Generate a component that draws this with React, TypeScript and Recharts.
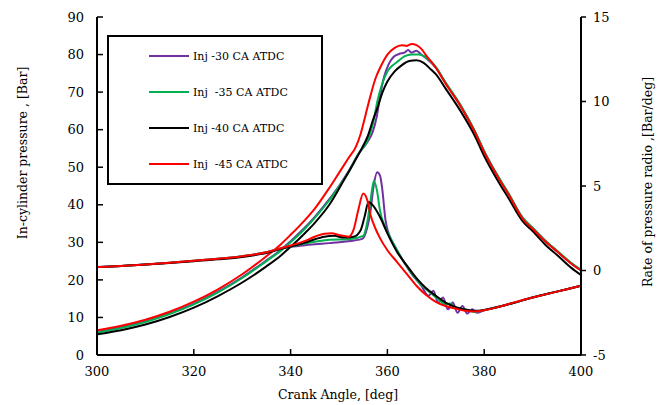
import React from "react";
import {
  LineChart,
  Line,
  XAxis,
  YAxis,
  Legend,
} from "recharts";

// [crank angle, pressure (bar)]
const P_30: [number, number][] = [
  [300, 6.2], [305, 7.4], [310, 9], [315, 11.1], [320, 13.7], [325, 16.9],
  [330, 20.7], [335, 25.2], [338, 28], [340, 30.3], [343, 34], [345, 36.8],
  [348, 41.5], [350, 45], [352, 49], [354, 53.5], [356, 57], [357, 59.5],
  [357.8, 63.5], [358.5, 69], [359.3, 74], [360.3, 77.5], [361.3, 79.4],
  [362.5, 80.2], [363.5, 80.5], [364.3, 81.2], [365, 80.5], [366, 81],
  [367, 80], [368, 79], [370, 76.5], [372, 72.5], [375, 66.6], [378, 59.7],
  [380, 54.2], [383, 47.2], [385, 43], [388, 36.4], [390, 33.8], [393, 29.9],
  [395, 27.7], [398, 24.4], [400, 22.6],
];
const P_35: [number, number][] = [
  [300, 6], [305, 7.2], [310, 8.8], [315, 10.9], [320, 13.5], [325, 16.7],
  [330, 20.5], [335, 25], [338, 27.8], [340, 30], [343, 33.7], [345, 36.5],
  [348, 41.2], [350, 44.8], [352, 48.8], [354, 53.5], [356, 57.5], [357, 61.5],
  [358, 68], [359, 72.5], [360, 75.5], [361, 77], [362, 78], [363.5, 79.5],
  [365, 80], [366.5, 80], [368, 79.2], [370, 76.7], [372, 72.6], [375, 66.8],
  [378, 59.8], [380, 54.3], [383, 47.3], [385, 43.1], [388, 36.5], [390, 33.9],
  [393, 30], [395, 27.8], [398, 24.5], [400, 22.7],
];
const P_40: [number, number][] = [
  [300, 5.5], [305, 6.6], [310, 8.1], [315, 10.1], [320, 12.6], [325, 15.7],
  [330, 19.3], [335, 23.6], [338, 26.5], [340, 28.8], [343, 32.5], [345, 35.2],
  [348, 40], [351, 46.5], [353, 51], [354.5, 54.5], [356, 58.5], [357, 62.5],
  [358, 66], [359, 70], [360, 72.8], [361.5, 75.5], [363, 77.2], [364.5, 78.3],
  [366, 78.5], [367.5, 77.8], [369, 76], [370, 74.8], [372, 71], [375, 65.2],
  [378, 58.5], [380, 53], [383, 46], [385, 41.8], [388, 35.5], [390, 33],
  [393, 28.9], [395, 26.7], [398, 23.2], [400, 21.3],
];
const P_45: [number, number][] = [
  [300, 6.6], [305, 7.8], [310, 9.4], [315, 11.5], [320, 14.2], [325, 17.5],
  [330, 21.5], [335, 26.3], [338, 29.5], [340, 32], [343, 36], [345, 39],
  [348, 44.5], [350, 48.5], [352, 52.5], [353.5, 55.5], [354.5, 59],
  [355.5, 64], [356.5, 69], [357.5, 73.5], [358.5, 76.5], [360, 80],
  [361.5, 81.8], [363, 82.5], [364, 82.3], [365, 82.8], [366, 82.5],
  [367, 81.5], [368, 79.8], [370, 76.5], [372, 72.3], [375, 66.5], [378, 59.5],
  [380, 54], [383, 47], [385, 42.8], [388, 36.2], [390, 33.6], [393, 29.8],
  [395, 27.6], [398, 24.3], [400, 22.5],
];

// [crank angle, rate of pressure rise (bar/deg)]
const R_30: [number, number][] = [
  [300, 0.2], [305, 0.27], [310, 0.36], [315, 0.46], [320, 0.57], [325, 0.7],
  [330, 0.85], [335, 1.08], [338, 1.3], [340, 1.4], [343, 1.5], [345, 1.55],
  [348, 1.62], [351, 1.7], [354.8, 1.87], [355.8, 2.5], [356.5, 3.5],
  [357.2, 5.1], [357.9, 5.82], [358.5, 5.6], [358.9, 4.9], [359.6, 3],
  [360.5, 2], [361.3, 1.55], [363, 0.7], [365, -0.2], [367, -0.9],
  [368.5, -1.5], [369.5, -1.2], [370.5, -1.9], [371.5, -1.6], [372.5, -2.3],
  [373.5, -1.9], [374.5, -2.5], [375.5, -2.1], [376.5, -2.55], [377.5, -2.3],
  [378.5, -2.5], [380, -2.35], [383, -2.15], [386, -1.92], [390, -1.6],
  [395, -1.25], [400, -0.9],
];
const R_35: [number, number][] = [
  [300, 0.2], [305, 0.27], [310, 0.36], [315, 0.46], [320, 0.57], [325, 0.7],
  [330, 0.85], [335, 1.08], [338, 1.3], [340, 1.42], [343, 1.6], [345, 1.7],
  [348, 1.82], [352, 1.85], [355, 2.05], [355.8, 2.8], [356.5, 4.1],
  [357.2, 5.3], [357.8, 4.8], [358.5, 3.5], [359.5, 2.6], [360.5, 2],
  [361.3, 1.55], [363, 0.7], [365, -0.15], [367, -0.85], [369, -1.35],
  [370.5, -1.7], [372, -2], [373, -1.95], [374, -2.2], [376, -2.3],
  [378, -2.45], [380, -2.35], [383, -2.15], [386, -1.92], [390, -1.6],
  [395, -1.25], [400, -0.9],
];
const R_40: [number, number][] = [
  [300, 0.2], [305, 0.26], [310, 0.35], [315, 0.44], [320, 0.55], [325, 0.66],
  [330, 0.8], [335, 1.04], [338, 1.28], [340, 1.42], [343, 1.65], [345, 1.85],
  [347, 2], [349, 2.05], [351, 1.95], [353, 2], [354.5, 2.4], [355.3, 3.2],
  [356.1, 4.05], [357, 3.85], [358.5, 3.15], [360, 2.2], [362, 1.1],
  [364, 0.3], [366, -0.45], [368, -1.05], [370, -1.5], [372, -1.9],
  [374, -2.15], [376, -2.3], [378, -2.38], [380, -2.33], [383, -2.15],
  [386, -1.92], [390, -1.6], [395, -1.25], [400, -0.9],
];
const R_45: [number, number][] = [
  [300, 0.2], [305, 0.27], [310, 0.36], [315, 0.46], [320, 0.57], [325, 0.7],
  [330, 0.85], [335, 1.08], [338, 1.32], [340, 1.48], [343, 1.75], [345, 2],
  [347, 2.18], [348.5, 2.2], [350, 2.1], [352, 2], [353, 2.4], [354, 3.6],
  [355, 4.55], [355.8, 4.2], [356.5, 3.3], [357.5, 2.5], [358.5, 1.9],
  [360, 1.2], [362, 0.5], [364, -0.2], [366, -0.9], [368, -1.45],
  [370, -1.85], [372, -2.1], [374, -2.25], [376, -2.38], [378, -2.42],
  [380, -2.35], [383, -2.15], [386, -1.9], [390, -1.6], [395, -1.25],
  [400, -0.9],
];

const NAMES = ["Inj -30 CA ATDC", "Inj  -35 CA ATDC", "Inj -40 CA ATDC", "Inj  -45 CA ATDC"];
const COLORS = ["#7030A0", "#00B050", "#000000", "#FF0000"];
const PRESSURE = [P_30, P_35, P_40, P_45];
const RATE = [R_30, R_35, R_40, R_45];

const X_TICKS = [300, 320, 340, 360, 380, 400];
const P_TICKS = [0, 10, 20, 30, 40, 50, 60, 70, 80, 90];
const R_TICKS = [-5, 0, 5, 10, 15];

// only serif face that resolves in the sandbox
const FONT = "DejaVu Serif";
const tickStyle = { fill: "#000", fontSize: 13, fontFamily: FONT };

const toPts = (arr: [number, number][]) => arr.map(([x, y]) => ({ x, y }));

function Title({ tx, ty, angle, text }: any) {
  return (
    <text
      x={tx}
      y={ty}
      textAnchor="middle"
      transform={angle ? `rotate(${angle} ${tx} ${ty})` : undefined}
      fill="#000"
      fontSize={12.5}
      fontFamily={FONT}
    >
      {text}
    </text>
  );
}

function LegendBox({ payload }: any) {
  const items = (payload || [])
    .filter((p: any) => p.type !== "none")
    .sort((a: any, b: any) => NAMES.indexOf(a.value) - NAMES.indexOf(b.value));
  return (
    <div
      style={{
        width: 212,
        height: 144,
        border: "2px solid #000",
        background: "#fff",
        display: "flex",
        flexDirection: "column",
        justifyContent: "space-around",
        padding: "1px 0",
        boxSizing: "content-box",
      }}
    >
      {items.map((it: any, i: number) => (
        <div key={i} style={{ display: "flex", alignItems: "center", paddingLeft: 40 }}>
          <span style={{ width: 40, height: 2, background: it.color, display: "inline-block" }} />
          <span
            style={{
              marginLeft: 4,
              fontFamily: FONT,
              fontSize: 11,
              whiteSpace: "pre",
              color: "#000",
            }}
          >
            {it.value}
          </span>
        </div>
      ))}
    </div>
  );
}

export default function App() {
  return (
    <div style={{ position: "absolute", left: 0, top: 0, background: "#fff", fontFamily: FONT }}>
      <LineChart width={666} height={405} margin={{ top: 17, right: 0, bottom: 0, left: 0 }}>
        <XAxis
          dataKey="x"
          type="number"
          domain={[300, 400]}
          ticks={X_TICKS}
          interval={0}
          allowDataOverflow
          height={50}
          tick={tickStyle}
          tickSize={-6}
          tickMargin={18}
          axisLine={{ stroke: "#000", strokeWidth: 2 }}
          tickLine={{ stroke: "#000", strokeWidth: 1.5 }}
          label={{ content: () => <Title tx={338} ty={399} text="Crank Angle, [deg]" /> }}
        />
        <XAxis
          xAxisId="top"
          orientation="top"
          dataKey="x"
          type="number"
          domain={[300, 400]}
          height={0}
          tick={false}
          tickLine={false}
          axisLine={{ stroke: "#000", strokeWidth: 2 }}
        />
        <YAxis
          yAxisId="p"
          domain={[0, 90]}
          ticks={P_TICKS}
          interval={0}
          width={97}
          tick={tickStyle}
          tickSize={-6}
          tickMargin={19}
          axisLine={{ stroke: "#000", strokeWidth: 2 }}
          tickLine={{ stroke: "#000", strokeWidth: 1.5 }}
          label={{ content: () => <Title tx={27} ty={153} angle={-90} text="In-cylinder pressure , [Bar]" /> }}
        />
        <YAxis
          yAxisId="r"
          orientation="right"
          domain={[-5, 15]}
          ticks={R_TICKS}
          interval={0}
          width={85}
          tick={tickStyle}
          tickSize={5}
          tickMargin={7}
          axisLine={{ stroke: "#000", strokeWidth: 2 }}
          tickLine={{ stroke: "#000", strokeWidth: 1.5 }}
          label={{ content: () => <Title tx={652} ty={182} angle={-90} text="Rate of pressure radio ,[Bar/deg]" /> }}
        />
        <Legend
          layout="horizontal"
          verticalAlign="middle"
          align="center"
          content={<LegendBox />}
          wrapperStyle={{ left: 107, top: 35, width: 216, height: 148 }}
        />
        {PRESSURE.map((d, i) => (
          <Line
            key={`p${i}`}
            yAxisId="p"
            data={toPts(d)}
            dataKey="y"
            name={NAMES[i]}
            type="monotone"
            stroke={COLORS[i]}
            strokeWidth={2}
            dot={false}
            isAnimationActive={false}
          />
        ))}
        {RATE.map((d, i) => (
          <Line
            key={`r${i}`}
            yAxisId="r"
            data={toPts(d)}
            dataKey="y"
            name={`${NAMES[i]} rate`}
            legendType="none"
            type="monotone"
            stroke={COLORS[i]}
            strokeWidth={2}
            dot={false}
            isAnimationActive={false}
          />
        ))}
      </LineChart>
    </div>
  );
}
